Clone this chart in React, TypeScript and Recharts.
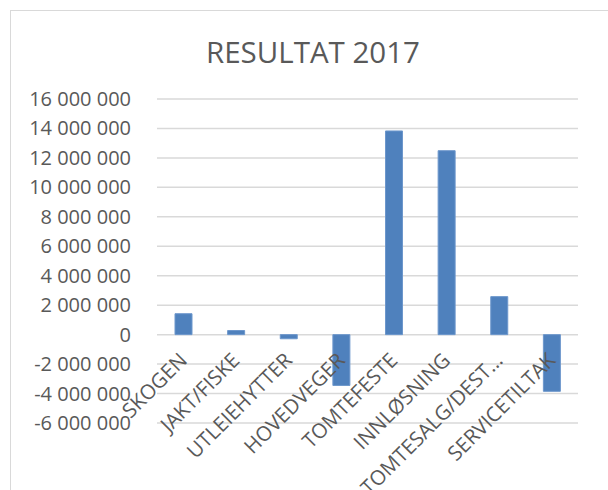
import React from "react";
import { BarChart, Bar, XAxis, YAxis, CartesianGrid } from "recharts";

const categories = [
  "SKOGEN",
  "JAKT/FISKE",
  "UTLEIEHYTTER",
  "HOVEDVEGER",
  "TOMTEFESTE",
  "INNLØSNING",
  "TOMTESALG/DEST…",
  "SERVICETILTAK",
];
const resultat = [1420000, 280000, -280000, -3450000, 13830000, 12490000, 2580000, -3850000];
const yTicks = [-6000000, -4000000, -2000000, 0, 2000000, 4000000, 6000000, 8000000, 10000000, 12000000, 14000000, 16000000];
const title = "RESULTAT 2017";

const data = categories.map((name, i) => ({ name, value: resultat[i] }));

const W = 608;
const H = 490;
const TOP = 99;
const XH = 67;
const PLOT_H = H - TOP - XH;
const YMIN = yTicks[0];
const YMAX = yTicks[yTicks.length - 1];
const FONT = "'Open Sans', sans-serif";
const TXT = "#595959";

const fmt = (v: number) => {
  const s = Math.abs(v).toString().replace(/\B(?=(\d{3})+(?!\d))/g, " ");
  return (v < 0 ? "-" : "") + s;
};

const zeroY = TOP + ((YMAX - 0) / (YMAX - YMIN)) * PLOT_H;

const XTick = (props: any) => {
  const { x, payload } = props;
  const ax = x + 5;
  const ay = zeroY + 27;
  return (
    <text
      x={ax}
      y={ay}
      textAnchor="end"
      transform={`rotate(-45 ${ax} ${ay})`}
      fill={TXT}
      fontSize={20.5}
      fontFamily={FONT}
    >
      {payload.value}
    </text>
  );
};

const YTick = (props: any) => {
  const { x, y, payload } = props;
  return (
    <text x={x} y={y} dy={7} textAnchor="end" fill={TXT} fontSize={20} fontFamily={FONT}>
      {fmt(payload.value)}
    </text>
  );
};

export default function App() {
  return (
    <div style={{ position: "absolute", left: 0, top: 0, width: W, height: H, overflow: "hidden", background: "#fff" }}>
      <div
        style={{
          position: "absolute",
          left: 10,
          top: 10,
          width: W,
          height: H,
          borderLeft: "1.5px solid #d9d9d9",
          borderTop: "1.5px solid #d9d9d9",
        }}
      />
      <div style={{ position: "absolute", left: 0, top: 0 }}>
        <BarChart width={W} height={H} data={data} margin={{ top: TOP, right: 30, bottom: 0, left: 0 }} barSize={17}>
          <text x={313} y={63} textAnchor="middle" fill={TXT} fontSize={29.5} fontFamily={FONT}>
            {title}
          </text>
          <CartesianGrid vertical={false} stroke="#d9d9d9" strokeWidth={1.5} />
          <XAxis
            dataKey="name"
            height={XH}
            axisLine={false}
            tickLine={false}
            interval={0}
            tick={<XTick />}
          />
          <YAxis
            width={157}
            domain={[YMIN, YMAX]}
            ticks={yTicks}
            interval={0}
            axisLine={false}
            tickLine={false}
            tickSize={0}
            tickMargin={26}
            tick={<YTick />}
          />
          <Bar dataKey="value" fill="#4f81bd" stroke="#6d97cc" strokeWidth={1} isAnimationActive={false} />
        </BarChart>
      </div>
    </div>
  );
}
